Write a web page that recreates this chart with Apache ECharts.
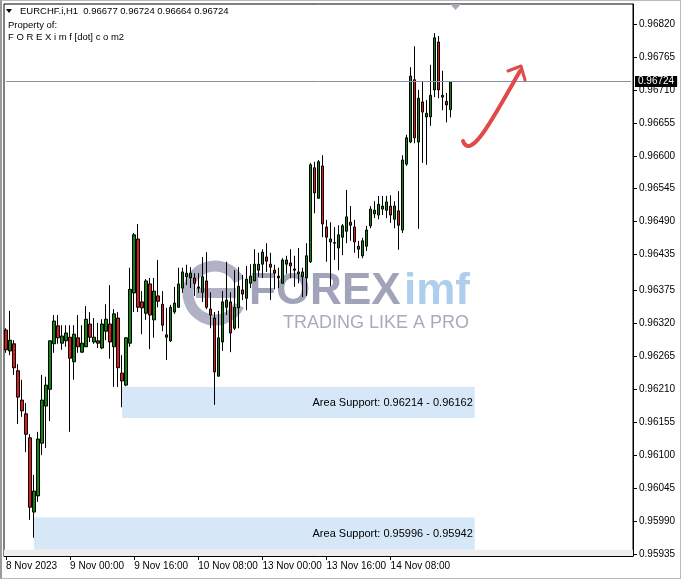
<!DOCTYPE html>
<html>
<head>
<meta charset="utf-8">
<script src="https://cdn.jsdelivr.net/npm/echarts@6/dist/echarts.min.js"></script>
<style>
html,body{margin:0;padding:0;background:#fff;}
#wrap{position:relative;width:681px;height:579px;}
#c{position:absolute;left:0;top:0;width:681px;height:579px;}
#frame{position:absolute;left:0;top:0;width:681px;height:579px;box-sizing:border-box;border:1px solid #b9b9b9;border-left:2px solid #9a9a9a;pointer-events:none;}
</style>
</head>
<body>
<div id="wrap"><div id="c"></div><div id="frame"></div></div>
<script>
// ---- data (EURCHF.i, H1) ----
const opens = [0.96309,0.96274,0.96286,0.96241,0.96192,0.96169,0.96129,0.96005,0.96032,0.96120,
0.96182,0.96210,0.96286,0.96316,0.96287,0.96291,0.96297,0.96256,0.96296,0.96272,
0.96281,0.96319,0.96289,0.96291,0.96279,0.96307,0.96319,0.96281,0.96329,0.96237,
0.96217,0.96287,0.96371,0.96461,0.96356,0.96337,0.96386,0.96326,0.96366,0.96352,
0.96297,0.96291,0.96339,0.96347,0.96379,0.96398,0.96396,0.96396,0.96381,0.96372,
0.96391,0.96344,0.96329,0.96232,0.96289,0.96347,0.96356,0.96312,0.96346,0.96376,
0.96362,0.96387,0.96391,0.96409,0.96419,0.96431,0.96419,0.96409,0.96399,0.96387,
0.96419,0.96421,0.96411,0.96403,0.96398,0.96396,0.96423,0.96580,0.96529,0.96583,
0.96481,0.96456,0.96454,0.96446,0.96464,0.96474,0.96489,0.96481,0.96444,0.96433,
0.96449,0.96483,0.96503,0.96501,0.96511,0.96509,0.96516,0.96494,0.96508,0.96476,
0.96586,0.96623,0.96727,0.96623,0.96690,0.96665,0.96665,0.96710,0.96790,0.96701,
0.96691,0.96677];
const closes = [0.96276,0.96292,0.96246,0.96197,0.96174,0.96135,0.96013,0.96040,0.96127,0.96192,
0.96217,0.96291,0.96324,0.96296,0.96299,0.96304,0.96262,0.96302,0.96281,0.96287,
0.96327,0.96297,0.96297,0.96287,0.96319,0.96327,0.96289,0.96336,0.96246,0.96224,
0.96296,0.96377,0.96468,0.96347,0.96346,0.96391,0.96334,0.96374,0.96357,0.96317,
0.96301,0.96347,0.96354,0.96386,0.96406,0.96404,0.96404,0.96387,0.96379,0.96398,
0.96347,0.96334,0.96239,0.96296,0.96356,0.96359,0.96304,0.96347,0.96382,0.96369,
0.96394,0.96399,0.96419,0.96419,0.96439,0.96424,0.96414,0.96404,0.96396,0.96426,
0.96426,0.96416,0.96409,0.96406,0.96406,0.96433,0.96585,0.96538,0.96590,0.96486,
0.96464,0.96461,0.96455,0.96468,0.96483,0.96498,0.96484,0.96456,0.96449,0.96458,
0.96476,0.96511,0.96509,0.96519,0.96516,0.96523,0.96501,0.96516,0.96484,0.96593,
0.96630,0.96733,0.96630,0.96696,0.96673,0.96671,0.96701,0.96797,0.96710,0.96698,
0.96685,0.96724];
const lows = [0.96271,0.96267,0.96234,0.96152,0.96164,0.96105,0.95992,0.95962,0.96022,0.96100,
0.96112,0.96157,0.96271,0.96286,0.96276,0.96281,0.96139,0.96226,0.96271,0.96271,
0.96281,0.96289,0.96286,0.96279,0.96277,0.96292,0.96261,0.96214,0.96214,0.96180,
0.96215,0.96281,0.96339,0.96339,0.96302,0.96326,0.96277,0.96296,0.96347,0.96307,
0.96259,0.96289,0.96336,0.96346,0.96371,0.96384,0.96379,0.96366,0.96371,0.96356,
0.96344,0.96312,0.96184,0.96231,0.96274,0.96334,0.96272,0.96309,0.96312,0.96359,
0.96342,0.96379,0.96391,0.96398,0.96396,0.96406,0.96359,0.96377,0.96379,0.96387,
0.96403,0.96396,0.96381,0.96387,0.96364,0.96366,0.96421,0.96504,0.96529,0.96464,
0.96423,0.96382,0.96426,0.96409,0.96434,0.96454,0.96458,0.96438,0.96429,0.96429,
0.96441,0.96479,0.96496,0.96494,0.96501,0.96496,0.96488,0.96479,0.96443,0.96471,
0.96583,0.96621,0.96621,0.96478,0.96588,0.96585,0.96650,0.96698,0.96696,0.96676,
0.96656,0.96664];
const highs = [0.96312,0.96341,0.96292,0.96252,0.96226,0.96187,0.96135,0.96067,0.96139,0.96234,
0.96231,0.96291,0.96334,0.96334,0.96317,0.96317,0.96317,0.96317,0.96334,0.96317,
0.96349,0.96339,0.96329,0.96321,0.96327,0.96352,0.96384,0.96344,0.96339,0.96267,
0.96297,0.96413,0.96471,0.96486,0.96374,0.96394,0.96396,0.96396,0.96426,0.96374,
0.96346,0.96351,0.96381,0.96413,0.96413,0.96418,0.96414,0.96404,0.96404,0.96431,
0.96439,0.96372,0.96339,0.96341,0.96374,0.96423,0.96372,0.96409,0.96414,0.96401,
0.96416,0.96419,0.96444,0.96438,0.96444,0.96454,0.96438,0.96418,0.96413,0.96429,
0.96433,0.96444,0.96433,0.96446,0.96413,0.96454,0.96588,0.96590,0.96593,0.96601,
0.96493,0.96489,0.96481,0.96484,0.96486,0.96543,0.96516,0.96493,0.96458,0.96463,
0.96483,0.96516,0.96524,0.96533,0.96533,0.96533,0.96534,0.96524,0.96541,0.96601,
0.96635,0.96748,0.96783,0.96710,0.96725,0.96693,0.96752,0.96805,0.96800,0.96742,
0.96705,0.96724];

const yTicks = [0.95935,0.95990,0.96045,0.96100,0.96155,0.96210,0.96265,0.96320,0.96375,
0.96435,0.96490,0.96545,0.96600,0.96655,0.96710,0.96765,0.96820];
const xTickIndex = [0,16,32,48,64,80,96];
const xTickText = ['8 Nov 2023','9 Nov 00:00','9 Nov 16:00','10 Nov 08:00','13 Nov 00:00','13 Nov 16:00','14 Nov 08:00'];
const lastPrice = 0.96724;
const supports = [
  {from: 29, to: 117, top: 0.96214, bottom: 0.96162},
  {from: 7, to: 117, top: 0.95996, bottom: 0.95942}
];
const Y_MIN = 0.959316, Y_MAX = 0.968535;
const TOTAL_SLOTS = 157;

// ---- hourly categories (weekends skipped) ----
const cats = [];
let t = Date.UTC(2023, 10, 8, 8);
while (cats.length < TOTAL_SLOTS) {
  const d = new Date(t);
  const dow = d.getUTCDay();
  if (dow !== 0 && dow !== 6) {
    const hh = String(d.getUTCHours()).padStart(2, '0');
    cats.push(d.getUTCDate() + ' Nov ' + hh + ':00');
  }
  t += 3600000;
}
const ohlc = opens.map((o, i) => [o, closes[i], lows[i], highs[i]]);
const showTick = (idx) => xTickIndex.indexOf(idx) >= 0;

const chart = echarts.init(document.getElementById('c'), null, {renderer: 'canvas'});
const FONT = 'Liberation Sans, Arial, sans-serif';
const option = {
  animation: false,
  textStyle: {fontFamily: FONT},
  grid: {left: 4, right: 48, top: 4, bottom: 23, show: true, borderColor: '#000', borderWidth: 1},
  xAxis: {
    type: 'category', data: cats, boundaryGap: true,
    axisLine: {lineStyle: {color: '#000', width: 1}},
    axisTick: {show: true, alignWithLabel: true, interval: showTick, length: 4, lineStyle: {color: '#000'}},
    axisLabel: {interval: showTick, align: 'left', color: '#000', fontSize: 10, margin: 5,
      formatter: (v, idx) => { const k = xTickIndex.indexOf(idx); return k >= 0 ? xTickText[k] : ''; }},
    splitLine: {show: false}
  },
  yAxis: {
    type: 'value', position: 'right', min: Y_MIN, max: Y_MAX,
    axisLine: {show: true, lineStyle: {color: '#000'}},
    axisTick: {show: true, length: 4, customValues: yTicks, lineStyle: {color: '#000'}},
    axisLabel: {customValues: yTicks, formatter: v => v.toFixed(5), color: '#000', fontSize: 10, margin: 6},
    splitLine: {show: false}
  },
  series: [{
    type: 'candlestick', data: ohlc, barWidth: 3, z: 3,
    itemStyle: {color: '#0b850b', color0: '#e3161b', borderColor: '#000', borderColor0: '#000', borderColorDoji: '#000', borderWidth: 1},
    markArea: {
      silent: true, z: 1,
      data: supports.map(s => [
        {xAxis: s.from, yAxis: s.top, name: 'Area Support: ' + s.top.toFixed(5) + ' - ' + s.bottom.toFixed(5),
         itemStyle: {color: '#d6e7f8'},
         label: {show: true, position: 'insideRight', color: '#000', fontSize: 11, distance: 2, fontFamily: FONT}},
        {xAxis: s.to, yAxis: s.bottom}
      ]).concat([[
        {yAxis: Y_MIN, itemStyle: {color: '#eeeeee'}, label: {show: false}},
        {yAxis: 0.95942}
      ]])
    },
    markLine: {
      silent: true, symbol: ['none', 'none'], animation: false,
      lineStyle: {color: '#8592a0', width: 1, type: 'solid'},
      label: {show: true, position: 'end', formatter: lastPrice.toFixed(5), backgroundColor: '#000', color: '#fff',
        padding: [1, 3, 0, 3], fontSize: 10, distance: 4, fontFamily: FONT},
      data: [[{xAxis: 0, yAxis: lastPrice}, {xAxis: TOTAL_SLOTS - 1, yAxis: lastPrice}]]
    }
  }],
  graphic: [
    // watermark logo
    {type: 'arc', z: -1, shape: {cx: 215, cy: 293, r: 27, startAngle: Math.PI * 0.15, endAngle: Math.PI * 1.85},
      style: {stroke: '#9c9eb7', lineWidth: 11, fill: null, opacity: 0.8}},
    {type: 'rect', z: -1, shape: {x: 196, y: 288, width: 40, height: 10},
      style: {fill: '#9c9eb7', opacity: 0.8}},
    {type: 'text', z: -1, style: {x: 249, y: 292, text: 'FOREX', font: 'bold 44px ' + FONT, fill: '#9093ad', opacity: 0.85, textVerticalAlign: 'middle'}},
    {type: 'text', z: -1, style: {x: 404, y: 292, text: 'imf', font: 'bold 44px ' + FONT, fill: '#a6c8ea', opacity: 0.9, textVerticalAlign: 'middle'}},
    {type: 'text', z: -1, style: {x: 283, y: 323, text: 'TRADING LIKE A PRO', font: '18px ' + FONT, fill: '#a7abbf', textVerticalAlign: 'middle'}},
    // red arrow
    {type: 'bezierCurve', z: 10, shape: {x1: 463, y1: 141, x2: 520, y2: 71, cpx1: 471, cpy1: 161, cpx2: 493, cpy2: 118},
      style: {stroke: '#e04a4a', lineWidth: 4, fill: null, lineCap: 'round'}},
    {type: 'polyline', z: 10, shape: {points: [[508, 71], [521, 66], [525, 80]]},
      style: {stroke: '#e04a4a', lineWidth: 3, fill: null, lineCap: 'round', lineJoin: 'round'}},
    // chart shift marker
    {type: 'polygon', z: 10, shape: {points: [[450, 4], [461, 4], [455.5, 10]]}, style: {fill: '#a3acb6'}},
    // header
    {type: 'polygon', z: 10, shape: {points: [[6, 9], [12, 9], [9, 13]]}, style: {fill: '#000'}},
    {type: 'text', z: 10, style: {x: 20, y: 11, text: 'EURCHF.i,H1  0.96677 0.96724 0.96664 0.96724', font: '9.5px ' + FONT, fill: '#000', textVerticalAlign: 'middle'}},
    {type: 'text', z: 10, style: {x: 8, y: 25, text: 'Property of:', font: '9.5px ' + FONT, fill: '#000', textVerticalAlign: 'middle'}},
    {type: 'text', z: 10, style: {x: 8, y: 37, text: 'F O R E X i m f [dot] c o m2', font: '9.5px ' + FONT, fill: '#000', textVerticalAlign: 'middle'}}
  ]
};
chart.setOption(option);
</script>
</body>
</html>
